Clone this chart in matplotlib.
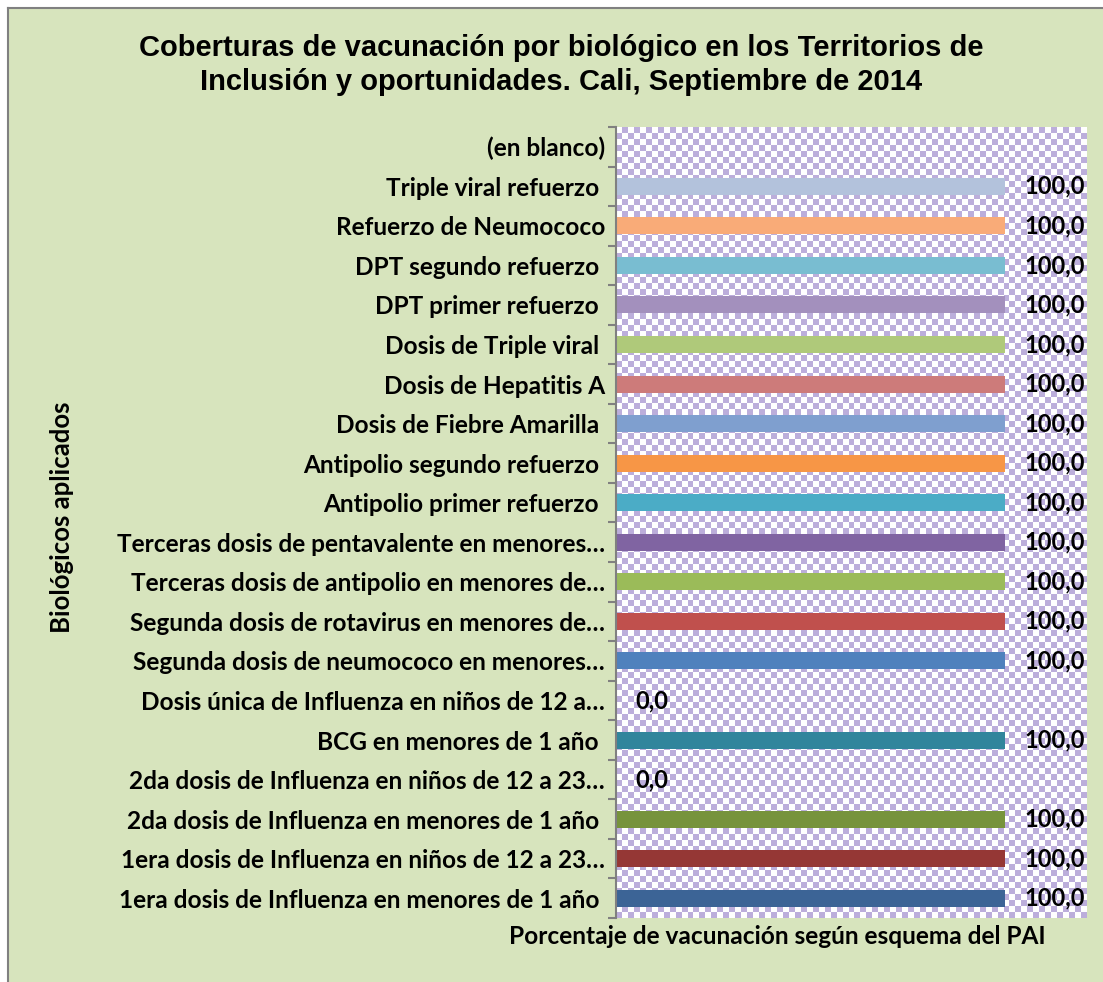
import numpy as np
import matplotlib
matplotlib.use('Agg')
from matplotlib import pyplot as plt
from matplotlib.lines import Line2D

# datos del gráfico (de abajo hacia arriba)
categorias = [
    "1era dosis de Influenza en menores de 1 año ",
    "1era dosis de Influenza en niños de 12 a 23…",
    "2da dosis de Influenza en menores de 1 año ",
    "2da dosis de Influenza en niños de 12 a 23…",
    "BCG en menores de 1 año ",
    "Dosis única de Influenza en niños de 12 a…",
    "Segunda dosis de neumococo en menores…",
    "Segunda dosis de rotavirus en menores de…",
    "Terceras dosis de antipolio en menores de…",
    "Terceras dosis de pentavalente en menores…",
    "Antipolio primer refuerzo ",
    "Antipolio segundo refuerzo ",
    "Dosis de Fiebre Amarilla ",
    "Dosis de Hepatitis A",
    "Dosis de Triple viral ",
    "DPT primer refuerzo ",
    "DPT segundo refuerzo ",
    "Refuerzo de Neumococo",
    "Triple viral refuerzo ",
    "(en blanco)",
]
valores = [100, 100, 100, 0, 100, 0, 100, 100, 100, 100,
           100, 100, 100, 100, 100, 100, 100, 100, 100, None]
colores = ["#3c6496", "#953735", "#77933c", "#4bacc6", "#31859c", "#4f81bd",
           "#4f81bd", "#c0504d", "#9bbb59", "#8064a2",
           "#4bacc6", "#f79646", "#7f9fcf", "#cd7b7a", "#afc97a",
           "#a390bd", "#79bdd1", "#f9ab78", "#b3c2dc", "#ffffff"]

titulo_1 = "Coberturas de vacunación por biológico en los Territorios de"
titulo_2 = "Inclusión y oportunidades. Cali, Septiembre de 2014"
etiqueta_y = "Biológicos aplicados"
etiqueta_x = "Porcentaje de vacunación según esquema del PAI"

fondo = "#d7e4bd"
fuente = ["Lato", "DejaVu Sans"]
arial = ["Liberation Sans", "DejaVu Sans"]

W, H = 1103, 982
fig = plt.figure(figsize=(W / 100, H / 100), dpi=100, facecolor=fondo)
# posición del área de trazado en píxeles
x0, x1, y0, y1 = 616, 1087, 127, 918
ax = fig.add_axes([x0 / W, 1 - y1 / H, (x1 - x0) / W, (y1 - y0) / H])

n = len(categorias)
ax.set_ylim(-0.5, n - 0.5)
ax.set_xlim(0, 121)

# fondo a cuadros (lavanda y blanco)
celda = 6
nx = int((x1 - x0) / celda) + 1
ny = int((y1 - y0) / celda) + 1
tablero = (np.add.outer(np.arange(ny), np.arange(nx)) % 2).astype(float)
ax.imshow(tablero, cmap=matplotlib.colors.ListedColormap(["#ffffff", "#bcaedb"]),
          extent=(0, 1, 0, 1), transform=ax.transAxes, aspect='auto',
          interpolation='antialiased', zorder=0)

ypos = np.arange(n)
for y, v, c in zip(ypos, valores, colores):
    if v is None:
        continue
    ax.barh(y, v, height=0.43, color=c, zorder=2)
    ax.annotate(f"{v:.1f}".replace(".", ","), (v, y), xytext=(14, 0),
                textcoords='offset points', ha='left', va='center',
                fontsize=17, fontweight='bold', family=fuente, zorder=3)

ax.set_yticks(ypos)
ax.set_yticklabels(categorias, fontsize=17.6, fontweight='bold', family=fuente)
ax.tick_params(axis='y', which='major', length=0, pad=8)
ax.set_yticks(np.arange(-0.5, n, 1), minor=True)
ax.tick_params(axis='y', which='minor', length=6, color='#808080', width=1.5)
ax.set_xticks([])
for s in ['top', 'right', 'bottom']:
    ax.spines[s].set_visible(False)
ax.spines['left'].set_color('#808080')
ax.spines['left'].set_linewidth(1.5)

fig.text(561 / W, 1 - 56 / H, titulo_1, ha='center', va='baseline', fontsize=21,
         fontweight='bold', family=arial)
fig.text(561 / W, 1 - 90 / H, titulo_2, ha='center', va='baseline', fontsize=21,
         fontweight='bold', family=arial)
fig.text(62 / W, 1 - 517 / H, etiqueta_y, rotation=90, ha='center', va='center',
         fontsize=18.5, fontweight='bold', family=fuente)
fig.text(777 / W, 1 - 936 / H, etiqueta_x, ha='center', va='center',
         fontsize=17.6, fontweight='bold', family=fuente)

# borde del gráfico (izquierda y arriba)
fig.add_artist(Line2D([7.5 / W, 7.5 / W], [0, 1 - 8 / H], transform=fig.transFigure,
                      color='#808080', lw=1.5))
fig.add_artist(Line2D([7.5 / W, 1], [1 - 8 / H, 1 - 8 / H], transform=fig.transFigure,
                      color='#808080', lw=1.5))
fig.patches.append(matplotlib.patches.Rectangle((0, 0), 1, 1, transform=fig.transFigure,
                                                facecolor='white', zorder=-10))
fig.patches.append(matplotlib.patches.Rectangle((7.5 / W, 0), 1, 1 - 8 / H,
                                                transform=fig.transFigure,
                                                facecolor=fondo, zorder=-9))

fig.savefig("out.png", dpi=100, facecolor='white')
